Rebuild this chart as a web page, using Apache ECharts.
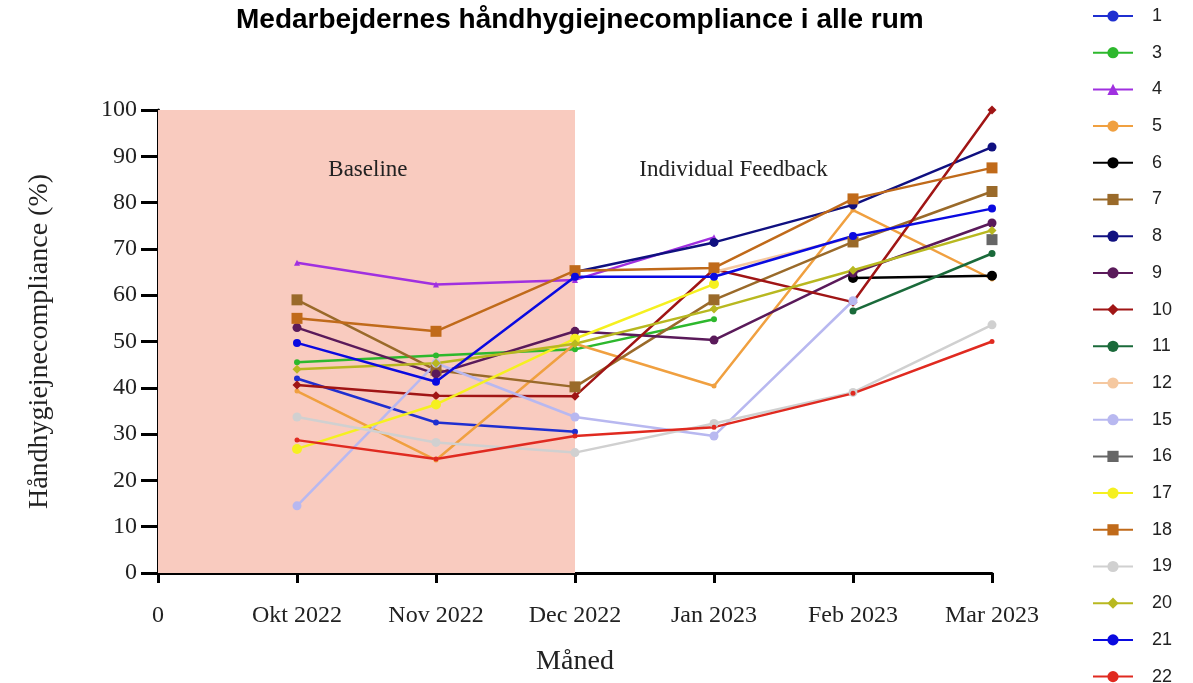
<!DOCTYPE html>
<html><head><meta charset="utf-8">
<script src="https://cdn.jsdelivr.net/npm/echarts@6/dist/echarts.min.js"></script>
<style>html,body{margin:0;padding:0;background:#fff}#c{width:1193px;height:683px}</style>
</head><body><div id="c"></div>
<script>
const xLabels = ["0", "Okt 2022", "Nov 2022", "Dec 2022", "Jan 2023", "Feb 2023", "Mar 2023"];
const yTicks = [0, 10, 20, 30, 40, 50, 60, 70, 80, 90, 100];
const seriesNames = ["1","3","4","5","6","7","8","9","10","11","12","15","16","17","18","19","20","21","22"];
const s1  = [42, 32.5, 30.5, null, null, null];
const s3  = [45.5, 47, 48.3, 54.8, null, null];
const s4  = [67, 62.3, 63.3, 72.5, null, null];
const s5  = [39.3, 24.4, 49.5, 40.4, 78.4, 63.5];
const s6  = [null, null, null, null, 63.7, 64.2];
const s7  = [59, 43.8, 40.2, 59, 71.5, 82.4];
const s8  = [null, null, 65, 71.4, 79.5, 92];
const s9  = [53, 43, 52.2, 50.3, 64.8, 75.6];
const s10 = [40.6, 38.3, 38.2, 65.6, 58.5, 100];
const s11 = [null, null, null, null, 56.6, 69];
const s12 = [null, null, null, 65, 72.5, null];
const s15 = [14.5, 45.3, 33.7, 29.6, 58.8, null];
const s16 = [null, null, null, null, null, 72];
const s17 = [26.8, 36.4, 50.6, 62.4, null, null];
const s18 = [55, 52.2, 65.3, 65.9, 80.8, 87.5];
const s19 = [33.7, 28.2, 26, 32.3, 39, 53.6];
const s20 = [44, 45.3, 49.5, 57, 65.4, 74];
const s21 = [49.7, 41.3, 64, 64, 72.8, 78.7];
const s22 = [28.7, 24.6, 29.6, 31.5, 38.8, 50];
const allValues = [s1,s3,s4,s5,s6,s7,s8,s9,s10,s11,s12,s15,s16,s17,s18,s19,s20,s21,s22];
const colors = ["#1f2fd0","#2db82d","#a030e0","#f0a040","#000000","#9a6a2a","#101080","#5a1a5a","#a01515","#1a6a3a","#f5c8a0","#b8b8f0","#666666","#f5f020","#c06a1a","#d0d0d0","#b8b820","#0a0ae0","#e02a20"];
const symbols = ["circle","circle","triangle","circle","circle","rect","circle","circle","diamond","circle","none","circle","rect","circle","rect","circle","diamond","circle","circle"];
const sizes = [6,6,6,5,10,11,9,9,9,7,0,9,11,10,11,9,9,8,5];
const phases = [{name:"Baseline", x:1.51, y:87}, {name:"Individual Feedback", x:4.14, y:87}];

const serif = "'Liberation Serif','Times New Roman',serif";
const sans = "'Liberation Sans',Arial,sans-serif";
const series = allValues.map((vals, k) => ({
  name: seriesNames[k],
  type: 'line',
  data: vals.map((v, i) => [i + 1, v]).filter(p => p[1] !== null),
  symbol: symbols[k],
  symbolSize: sizes[k],
  showSymbol: true,
  lineStyle: {width: 2.5, color: colors[k]},
  itemStyle: {color: colors[k]},
  animation: false,
  z: 3
}));
series.push({
  name: '_bg', type: 'line', data: [], silent: true,
  markArea: {silent: true, itemStyle: {color: '#f9cbbf', opacity: 1}, data: [[{xAxis: 0, yAxis: 0}, {xAxis: 3, yAxis: 100}]]},
  markPoint: {silent: true, symbol: 'circle', symbolSize: 0,
    label: {show: true, position: 'inside', color: '#222', fontFamily: serif, fontSize: 23, formatter: p => p.name},
    data: phases.map(p => ({name: p.name, coord: [p.x, p.y]}))},
  z: 1
});

const chart = echarts.init(document.getElementById('c'), null, {renderer: 'canvas'});
chart.setOption({
  animation: false,
  backgroundColor: '#fff',
  title: {text: 'Medarbejdernes håndhygiejnecompliance i alle rum', left: 231, top: 1,
    textStyle: {fontFamily: sans, fontWeight: 'bold', fontSize: 28, color: '#000'}},
  legend: {data: seriesNames, orient: 'vertical', left: 1092, top: 7, padding: 0, height: 720, itemWidth: 40, itemHeight: 14, itemGap: 18.7,
    textStyle: {fontFamily: sans, fontSize: 18, color: '#222', padding: [0,0,0,14]}},
  grid: {left: 158, right: 201, top: 110, bottom: 110, containLabel: false},
  xAxis: {type: 'value', min: 0, max: 6, interval: 1,
    name: 'Måned', nameLocation: 'middle', nameGap: 75,
    nameTextStyle: {fontFamily: serif, fontSize: 28, color: '#222'},
    axisLine: {lineStyle: {color: '#000', width: 3}},
    axisTick: {show: true, length: 10, lineStyle: {color: '#000', width: 3}},
    axisLabel: {fontFamily: serif, fontSize: 24, color: '#222', margin: 31, formatter: v => xLabels[v] ?? ''},
    splitLine: {show: false}},
  yAxis: {type: 'value', min: 0, max: 100, interval: 10,
    name: 'Håndhygiejnecompliance (%)', nameLocation: 'middle', nameGap: 104, nameRotate: 90,
    nameTextStyle: {fontFamily: serif, fontSize: 28, color: '#222'},
    axisLine: {show: true, lineStyle: {color: '#000', width: 3}},
    axisTick: {show: true, length: 17, lineStyle: {color: '#000', width: 3}},
    axisLabel: {fontFamily: serif, fontSize: 24, color: '#222', margin: 21,
      formatter: v => yTicks.includes(v) ? String(v) : ''},
    splitLine: {show: false}},
  series: series
});
</script></body></html>
